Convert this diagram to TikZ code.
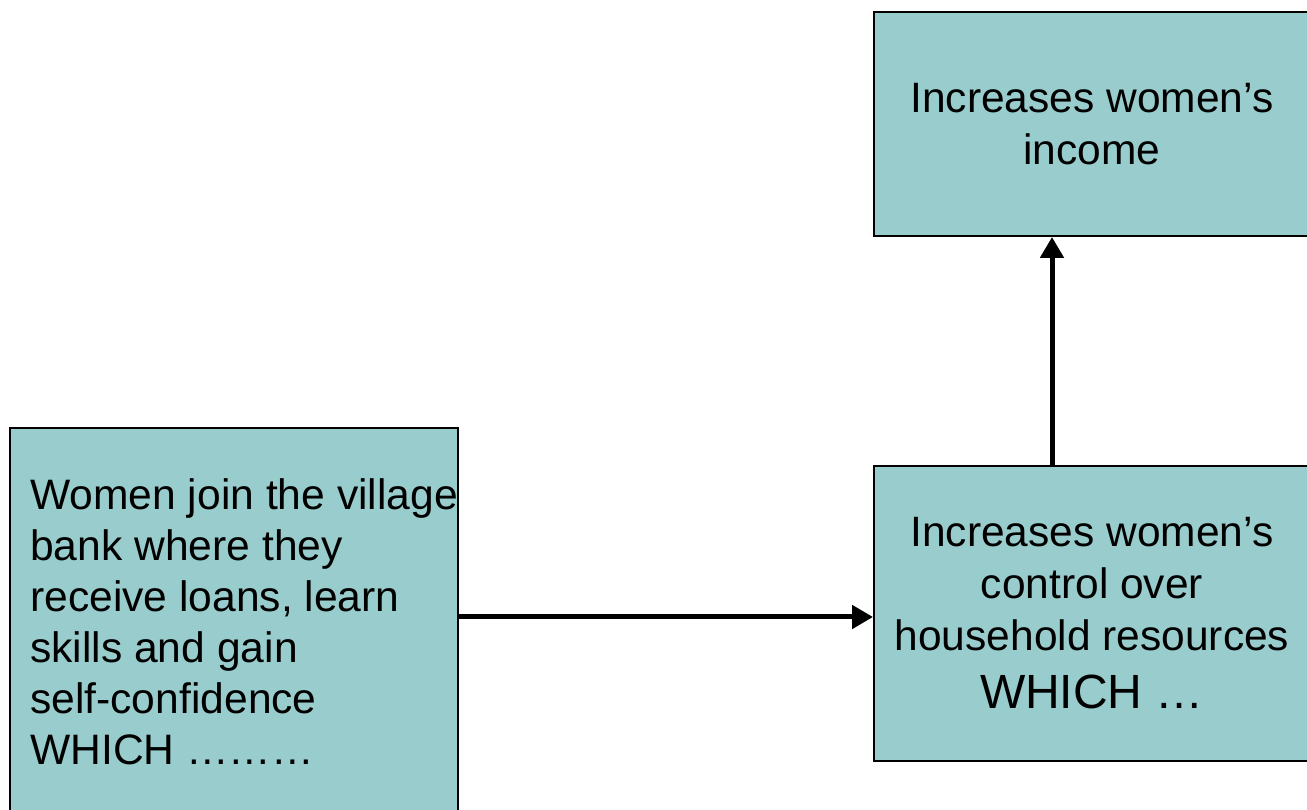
\documentclass[tikz,border=0pt]{standalone}
\usepackage{fontspec}
\setmainfont{Liberation Sans}
\usetikzlibrary{arrows.meta}
\definecolor{boxfill}{HTML}{99CCCC}
\begin{document}
\begin{tikzpicture}[x=1pt,y=1pt,
  stagebox/.style={draw=black,line width=2pt,fill=boxfill,rectangle,inner sep=0pt},
  flow/.style={line width=5pt,-{Triangle[length=21pt,width=23pt]}},
  midtext/.style={font=\fontsize{42.5}{52}\selectfont,align=center,inner sep=0pt}]
\useasboundingbox (0,0) rectangle (1307,809);
\clip (0,0) rectangle (1307,809);
% left stage: joining the village bank
\node[stagebox,minimum width=448pt,minimum height=384pt] (bank) at (234,189) {};
\node[anchor=base west,align=left,inner sep=0pt,
      font=\fontsize{42.6}{51}\selectfont] (banktext) at (30,45)
  {Women join the village\\bank where they\\receive loans, learn\\skills and gain\\self-confidence\\WHICH ………};
% right stage: control over resources
\node[stagebox,midtext,minimum width=436pt,minimum height=295pt] (control) at (1092,195.5)
  {Increases women’s\\control over\\household resources\hspace*{14pt}\\[6pt]{\fontsize{48}{52}\selectfont WHICH …}};
% top stage: income
\node[stagebox,midtext,minimum width=436pt,minimum height=224pt] (income) at (1092,685)
  {Increases women’s\\income};
% connectors
\draw[flow] ([yshift=3pt]bank.east) -- ([yshift=3pt]bank.east -| control.west);
\draw[flow] ([xshift=-40pt]control.north) -- ([xshift=-40pt]control.north |- income.south);
\end{tikzpicture}
\end{document}
